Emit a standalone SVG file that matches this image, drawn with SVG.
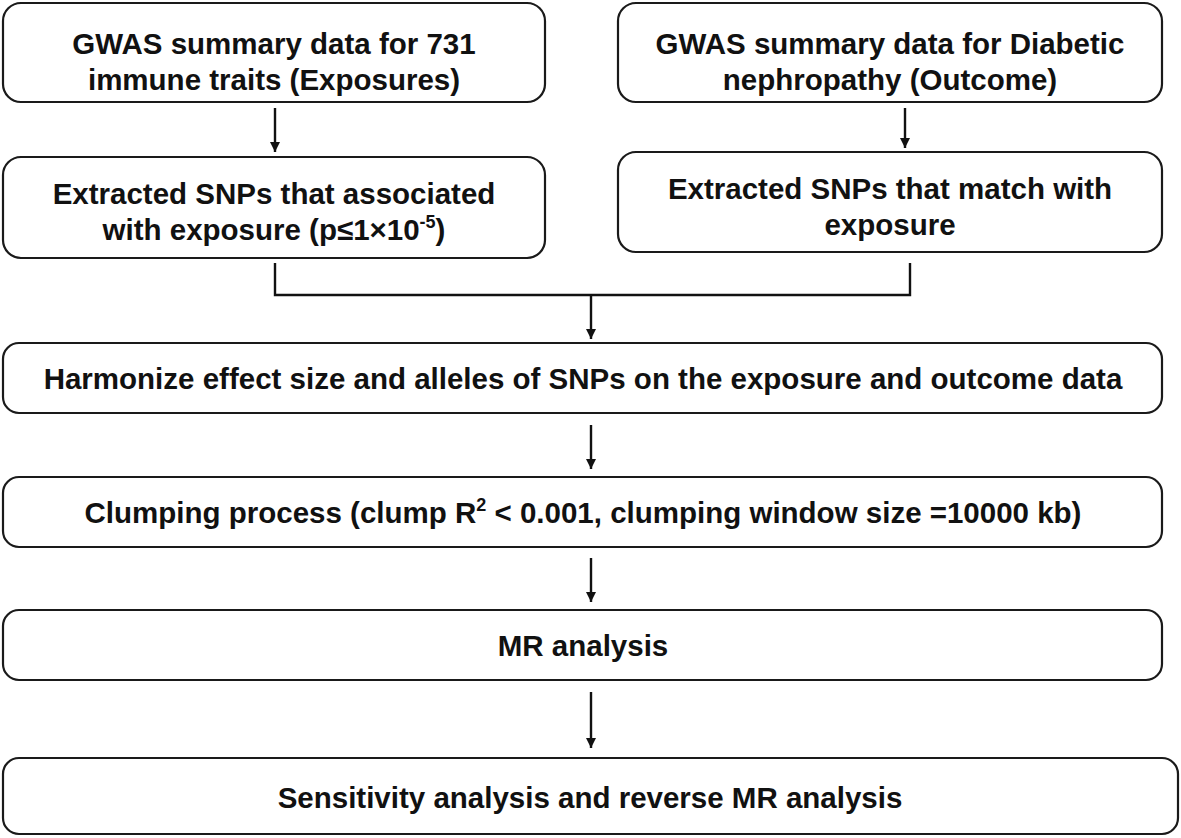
<svg xmlns="http://www.w3.org/2000/svg" width="1181" height="838" viewBox="0 0 1181 838">
<defs>
<marker id="ah" viewBox="0 0 10 10" refX="10" refY="5" markerWidth="11" markerHeight="10" markerUnits="userSpaceOnUse" orient="auto">
<path d="M0,0 L10,5 L0,10 z" fill="#111"/>
</marker>
<style>
.box{fill:#fff;stroke:#1a1a1a;stroke-width:2.2}
.t{font-family:"Liberation Sans",Arial,sans-serif;font-weight:bold;font-size:29.5px;fill:#111;text-anchor:middle}
.c{fill:none;stroke:#111;stroke-width:2.4}
</style>
</defs>
<rect width="1181" height="838" fill="#fff"/>
<g id="n1"><rect class="box" x="3" y="3" width="542" height="99" rx="18"/>
<text class="t" x="274" y="54">GWAS summary data for 731</text>
<text class="t" x="274" y="90">immune traits (Exposures)</text></g>
<g id="n2"><rect class="box" x="618" y="3" width="544" height="99" rx="18"/>
<text class="t" x="890" y="54">GWAS summary data for Diabetic</text>
<text class="t" x="890" y="90">nephropathy (Outcome)</text></g>
<g id="n3"><rect class="box" x="3" y="157" width="542" height="101" rx="18"/>
<text class="t" x="274" y="204">Extracted SNPs that associated</text>
<text class="t" x="274" y="240">with exposure (p≤1×10<tspan font-size="18" dy="-12">-5</tspan><tspan dy="12">)</tspan></text></g>
<g id="n4"><rect class="box" x="618" y="152" width="544" height="100" rx="18"/>
<text class="t" x="890" y="199">Extracted SNPs that match with</text>
<text class="t" x="890" y="235">exposure</text></g>
<g id="n5"><rect class="box" x="3" y="343" width="1159" height="70" rx="16"/>
<text class="t" x="583" y="389">Harmonize effect size and alleles of SNPs on the exposure and outcome data</text></g>
<g id="n6"><rect class="box" x="3" y="477" width="1159" height="70" rx="16"/>
<text class="t" x="583" y="523">Clumping process (clump R<tspan font-size="18" dy="-12">2</tspan><tspan dy="12"> &lt; 0.001, clumping window size =10000 kb)</tspan></text></g>
<g id="n7"><rect class="box" x="3" y="610" width="1159" height="70" rx="16"/>
<text class="t" x="583" y="656">MR analysis</text></g>
<g id="n8"><rect class="box" x="3" y="758" width="1175" height="76" rx="16"/>
<text class="t" x="590" y="808">Sensitivity analysis and reverse MR analysis</text></g>
<g id="connectors">
<line class="c" x1="275" y1="108" x2="275" y2="152" marker-end="url(#ah)"/>
<line class="c" x1="905" y1="108" x2="905" y2="148" marker-end="url(#ah)"/>
<polyline class="c" points="275,263 275,295 910,295 910,263"/>
<line class="c" x1="591" y1="295" x2="591" y2="339" marker-end="url(#ah)"/>
<line class="c" x1="591" y1="425" x2="591" y2="469" marker-end="url(#ah)"/>
<line class="c" x1="591" y1="558" x2="591" y2="602" marker-end="url(#ah)"/>
<line class="c" x1="591" y1="692" x2="591" y2="748" marker-end="url(#ah)"/>
</g>
</svg>
